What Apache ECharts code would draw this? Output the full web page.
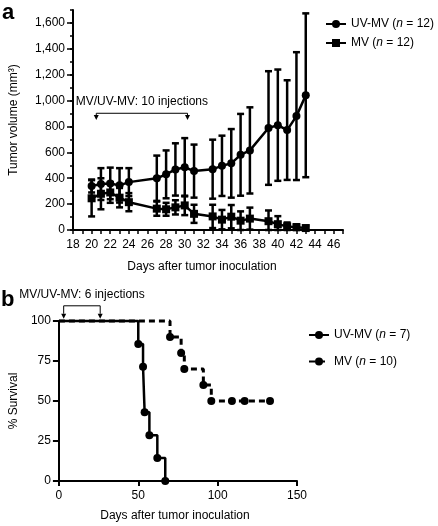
<!DOCTYPE html>
<html><head><meta charset="utf-8">
<script src="https://cdn.jsdelivr.net/npm/echarts@6/dist/echarts.min.js"></script>
<style>html,body{margin:0;padding:0;background:#fff}#c{width:438px;height:526px}</style>
</head><body><div id="c"></div>
<script>
// ---- Panel a: tumor volume (mean ± error) ----
const days   = [20,21,22,23,24,27,28,29,30,31,33,34,35,36,37,39,40,41,42,43];
const uvMean = [340,355,360,345,370,400,430,468,485,455,470,496,515,581,615,788,810,772,880,1041];
const uvErr  = [50,123,122,133,108,175,185,202,225,205,228,233,265,316,333,439,430,385,494,633];
const mvMean = [245,280,290,250,215,165,160,175,190,125,105,80,103,72,88,68,45,28,22,15];
const mvErr  = [140,120,80,75,70,55,50,55,75,70,90,75,90,72,85,83,62,30,22,18];
const yTicksA = [0,200,400,600,800,1000,1200,1400,1600];
const injA = [20.5, 30.3];               // injection window (days)
// ---- Panel b: survival ----
const uvDays = [0,50,53,54,57,62,67];
const uvSurv = [100,85.7,71.4,42.9,28.6,14.3,0];
const mvDays = [0,70,77,79,91,96,109,117,133];
const mvSurv = [100,90,80,70,60,50,50,50,50];
const injB = [3, 26];

const FONT = '"Liberation Sans", Arial, Helvetica, sans-serif';
const K = '#000';
const chart = echarts.init(document.getElementById('c'), null, {renderer:'canvas'});

function legendFmt(name){
  const m = name.match(/^(.*)\(n = (\d+)\)$/);
  return m ? m[1] + '({i|n} = ' + m[2] + ')' : name;
}
const legendText = {color:K, fontSize:12, fontFamily:FONT, rich:{i:{fontStyle:'italic', fontSize:12, fontFamily:FONT, color:K}}};

function errSeries(means, errs){
  return {
    type:'custom', xAxisIndex:0, yAxisIndex:0, silent:true, z:1,
    data: days.map((d,i)=>[d, means[i]-errs[i], means[i]+errs[i]]),
    renderItem:(params, api)=>{
      const x = api.value(0);
      const lo = api.coord([x, Math.max(0, api.value(1))]);
      const hi = api.coord([x, api.value(2)]);
      const w = 3.5, st = {stroke:K, lineWidth:2.5};
      return {type:'group', children:[
        {type:'line', shape:{x1:lo[0],y1:lo[1],x2:hi[0],y2:hi[1]}, style:st},
        {type:'line', shape:{x1:hi[0]-w,y1:hi[1],x2:hi[0]+w,y2:hi[1]}, style:st},
        {type:'line', shape:{x1:lo[0]-w,y1:lo[1],x2:lo[0]+w,y2:lo[1]}, style:st}
      ]};
    }
  };
}
function kmData(xs, ys){
  return xs.map((x,i)=> i===0 ? {value:[x,ys[i]], symbol:'none'} : [x, ys[i]]);
}

const axisLineStyle = {show:true, lineStyle:{color:K, width:2}};
const labelStyle = {color:K, fontSize:12, fontFamily:FONT};

const option = {
  animation:false,
  backgroundColor:'#fff',
  textStyle:{fontFamily:FONT, color:K},
  grid:[
    {left:70, top:10, width:273, height:220},
    {left:53.5, top:321, width:243.5, height:160}
  ],
  legend:[
    {orient:'vertical', left:325, top:13, itemWidth:20, itemHeight:10, itemGap:7, padding:[5,0,5,0],
     data:['UV-MV (n = 12)','MV (n = 12)'], formatter:legendFmt, textStyle:legendText},
    {orient:'vertical', left:303, top:324, itemWidth:20, itemHeight:10, itemGap:14.5,
     data:['UV-MV (n = 7)','MV (n = 10)'], formatter:legendFmt, textStyle:legendText}
  ],
  xAxis:[
    {type:'value', gridIndex:0, min:18, max:47, interval:1,
     axisLine:axisLineStyle, splitLine:{show:false},
     axisTick:{show:true, length:4, lineStyle:{color:K, width:1.5}},
     axisLabel:Object.assign({margin:9, formatter:v=> (v%2===0 && v<=46) ? String(v) : ''}, labelStyle),
     name:'Days after tumor inoculation', nameLocation:'middle', nameGap:31,
     nameTextStyle:{color:K, fontSize:12, fontFamily:FONT, padding:[0,12,0,0]}},
    {type:'value', gridIndex:1, min:0, max:150, interval:50,
     axisLine:axisLineStyle, splitLine:{show:false},
     axisTick:{show:true, length:5, lineStyle:{color:K, width:2}},
     axisLabel:Object.assign({margin:9}, labelStyle),
     name:'Days after tumor inoculation', nameLocation:'middle', nameGap:29,
     nameTextStyle:{color:K, fontSize:12, fontFamily:FONT, padding:[0,6,0,0]}}
  ],
  yAxis:[
    {type:'value', gridIndex:0, min:0, max:1700, position:'left',
     axisLine:axisLineStyle, splitLine:{show:false},
     axisTick:{show:true, length:6, customValues:yTicksA, lineStyle:{color:K, width:1.5}},
     axisLabel:Object.assign({margin:8, customValues:yTicksA, formatter:v=>v.toLocaleString('en-US')}, labelStyle),
     name:'Tumor volume (mm³)', nameLocation:'middle', nameGap:53,
     nameTextStyle:{color:K, fontSize:12, fontFamily:FONT}},
    {type:'value', gridIndex:1, min:0, max:100, interval:25,
     axisLine:axisLineStyle, splitLine:{show:false},
     axisTick:{show:true, length:6, lineStyle:{color:K, width:2}},
     axisLabel:Object.assign({margin:8}, labelStyle),
     name:'% Survival', nameLocation:'middle', nameGap:37,
     nameTextStyle:{color:K, fontSize:12, fontFamily:FONT}},
    {type:'value', gridIndex:0, min:0, max:1700, interval:100, position:'left', offset:0,
     axisLine:{show:false}, splitLine:{show:false}, axisLabel:{show:false},
     axisTick:{show:true, length:3, lineStyle:{color:K, width:1.5}}}
  ],
  series:[
    errSeries(uvMean, uvErr),
    errSeries(mvMean, mvErr),
    {name:'UV-MV (n = 12)', type:'line', xAxisIndex:0, yAxisIndex:0, z:3,
     data:days.map((d,i)=>[d, uvMean[i]]), symbol:'circle', symbolSize:8,
     lineStyle:{color:K, width:2.5}, itemStyle:{color:K}},
    {name:'MV (n = 12)', type:'line', xAxisIndex:0, yAxisIndex:0, z:3,
     data:days.map((d,i)=>[d, mvMean[i]]), symbol:'rect', symbolSize:8,
     lineStyle:{color:K, width:2.5}, itemStyle:{color:K}},
    {name:'UV-MV (n = 7)', type:'line', xAxisIndex:1, yAxisIndex:1, step:'end', z:3,
     data:kmData(uvDays, uvSurv), symbol:'circle', symbolSize:8, clip:false,
     lineStyle:{color:K, width:2.5}, itemStyle:{color:K}},
    {name:'MV (n = 10)', type:'line', xAxisIndex:1, yAxisIndex:1, step:'end', z:4,
     data:kmData(mvDays, mvSurv), symbol:'circle', symbolSize:8, clip:false,
     lineStyle:{color:K, width:3, type:[6,4]}, itemStyle:{color:K}}
  ]
};
chart.setOption(option);

// annotations positioned through the axes
function bracket(gridIdx, xs, vTip, vTop, vText, label){
  const f = {xAxisIndex:gridIdx, yAxisIndex:gridIdx};
  const a = chart.convertToPixel(f, [xs[0], vTip]);
  const b = chart.convertToPixel(f, [xs[1], vTip]);
  const t = chart.convertToPixel(f, [xs[0], vTop])[1];
  const ty = chart.convertToPixel(f, [xs[0], vText])[1];
  const st = {stroke:K, lineWidth:1, fill:null};
  const h = 5, w = 2.5;
  return [
    {type:'polyline', shape:{points:[[a[0],a[1]-h],[a[0],t],[b[0],t],[b[0],b[1]-h]]}, style:st, silent:true},
    {type:'polygon', shape:{points:[[a[0]-w,a[1]-h],[a[0]+w,a[1]-h],[a[0],a[1]]]}, style:{fill:K}, silent:true},
    {type:'polygon', shape:{points:[[b[0]-w,b[1]-h],[b[0]+w,b[1]-h],[b[0],b[1]]]}, style:{fill:K}, silent:true},
    {type:'text', x:(a[0]+b[0])/2, y:ty, style:{text:label, fill:K, font:'12px '+FONT, textAlign:'center', textVerticalAlign:'middle'}, silent:true}
  ];
}
const g = [].concat(
  bracket(0, injA, 850, 902, 992, 'MV/UV-MV: 10 injections'),
  bracket(1, injB, 101.4, 109.5, 116.4, 'MV/UV-MV: 6 injections'),
  [
    {type:'text', left:2, top:2, style:{text:'a', fill:K, font:'bold 22px '+FONT}},
    {type:'text', left:1, top:289, style:{text:'b', fill:K, font:'bold 22px '+FONT}}
  ]
);
chart.setOption({graphic:g});
</script></body></html>
